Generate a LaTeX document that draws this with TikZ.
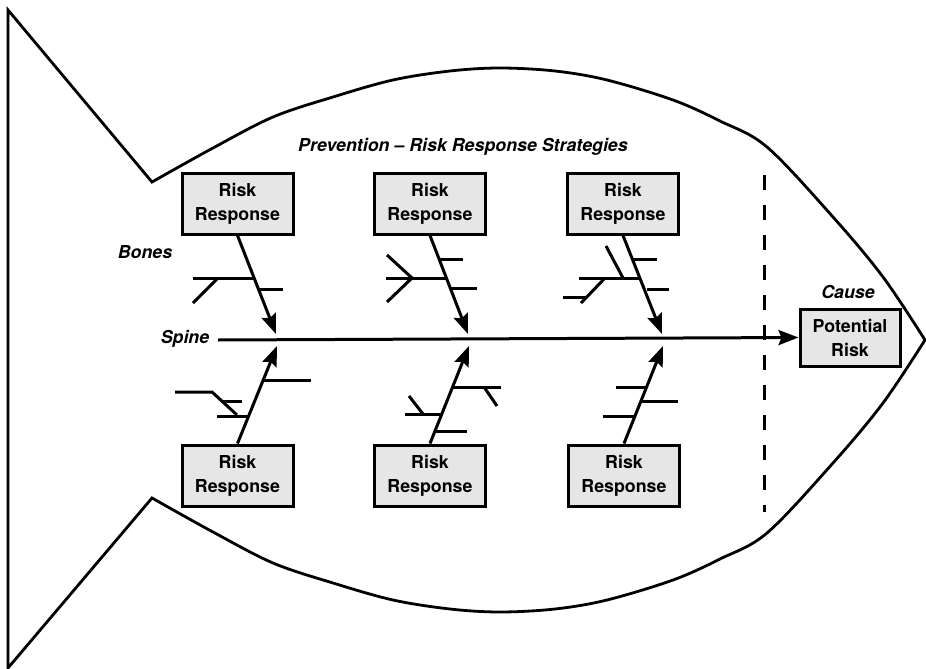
\documentclass[tikz,border=0pt]{standalone}
\usepackage{fontspec}
\setmainfont{TeX Gyre Heros}
\usetikzlibrary{arrows.meta}

\definecolor{boxgray}{HTML}{E6E6E6}

\tikzset{
  outline/.style={line width=2.8pt, line join=miter},
  riskbox/.style={draw, line width=3pt, fill=boxgray, align=center,
    minimum width=111pt, minimum height=61pt, inner sep=0pt,
    font=\fontsize{17.8}{24}\selectfont\bfseries},
  tag/.style={font=\fontsize{17.8}{21}\selectfont\bfseries\itshape, inner sep=0pt},
  feed/.style={line width=3pt, -{Stealth[length=20pt,width=15pt,inset=3pt]}},
  bone/.style={line width=3pt},
  divider/.style={line width=3pt, dash pattern=on 15pt off 15pt}
}

\begin{document}
\begin{tikzpicture}[x=1pt, y=-1pt]
  \useasboundingbox (0,0) rectangle (926,669);

  % fish body: tail edges and the two curved flanks meeting at the head
  \draw[outline] (8,10) -- (152,182)
    -- plot[smooth, tension=0.55] coordinates {(152,182) (213,148) (273,117) (333,97) (393,80)
       (450,71) (500,68) (555,71) (607,80) (673,100) (720,121) (767,147) (833,217) (883,277) (925,340)}
    -- plot[smooth, tension=0.55] coordinates {(925,340) (883,403) (833,463) (767,533) (720,559)
       (673,580) (607,600) (555,609) (500,612) (450,609) (393,600) (333,583) (273,563) (213,532) (152,498)}
    -- (8,668) -- cycle;

  % cause / response divider
  \coordinate (dtop) at (764,175);
  \coordinate (dbot) at (764,512);
  \draw[divider] (dtop) -- (dbot);

  % labels
  \node[tag] (title) at (463,147) {Prevention – Risk Response Strategies};
  \node[tag] (bones) at (145,252) {Bones};
  \node[tag] (spinelbl) at (185,339) {Spine};
  \node[tag] (cause) at (848,292) {Cause};

  % boxes
  \node[riskbox] (t1) at (237.5,203.5) {Risk\\Response};
  \node[riskbox] (t2) at (430,203.5) {Risk\\Response};
  \node[riskbox] (t3) at (623,203.5) {Risk\\Response};
  \node[riskbox] (b1) at (237.5,475.5) {Risk\\Response};
  \node[riskbox] (b2) at (430,475.5) {Risk\\Response};
  \node[riskbox] (b3) at (624,475.5) {Risk\\Response};
  \node[riskbox, minimum width=100pt, minimum height=57pt] (risk) at (850,337.5) {Potential\\Risk};

  % spine
  \coordinate (sstart) at (218,340);
  \draw[feed] (sstart) -- (risk.west);

  % ribs into the spine
  \coordinate (p1) at (276,334);
  \coordinate (p2) at (468,334);
  \coordinate (p3) at (662,334);
  \coordinate (q1) at (277,346);
  \coordinate (q2) at (469,346);
  \coordinate (q3) at (663,346);
  \draw[feed] (t1.south) -- (p1);
  \draw[feed] (t2.south) -- (p2);
  \draw[feed] (t3.south) -- (p3);
  \draw[feed] (b1.north) -- (q1);
  \draw[feed] (b2.north) -- (q2);
  \draw[feed] (b3.north) -- (q3);

  % bones, upper left
  \draw[bone] (193,278) -- (254,278);
  \draw[bone] (193,303) -- (218,278);
  \draw[bone] (259,289) -- (283,289);

  % bones, upper middle
  \draw[bone] (440,259) -- (463,259);
  \draw[bone] (386,278) -- (447,278);
  \draw[bone] (387,255) -- (412,278) -- (387,302);
  \draw[bone] (451,288) -- (477,288);

  % bones, upper right
  \draw[bone] (606,246) -- (623,278);
  \draw[bone] (579,278) -- (641,278);
  \draw[bone] (633,259) -- (657,259);
  \draw[bone] (647,289) -- (669,289);
  \draw[bone] (605,278) -- (581,303);
  \draw[bone] (563,297) -- (587,297);

  % bones, lower left
  \draw[bone] (263,380) -- (311,380);
  \draw[bone] (175,392) -- (212,392) -- (237,415);
  \draw[bone] (222,401) -- (242,401);
  \draw[bone] (217,416) -- (249,416);

  % bones, lower middle
  \draw[bone] (453,387) -- (501,387);
  \draw[bone] (484,387) -- (497,406);
  \draw[bone] (405,414) -- (442,414);
  \draw[bone] (409,396) -- (423,414);
  \draw[bone] (436,431) -- (467,431);

  % bones, lower right
  \draw[bone] (616,387) -- (647,387);
  \draw[bone] (642,401) -- (678,401);
  \draw[bone] (603,416) -- (636,416);
\end{tikzpicture}
\end{document}
